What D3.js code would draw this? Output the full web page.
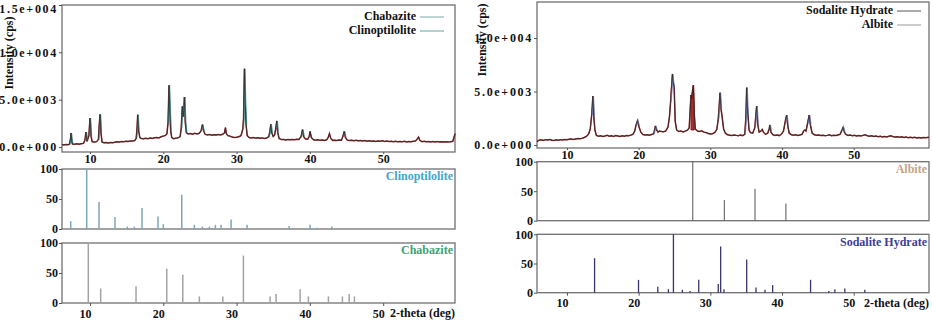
<!DOCTYPE html>
<html>
<head>
<meta charset="utf-8">
<script src="https://cdn.jsdelivr.net/npm/d3@7"></script>
<style>
  body { margin: 0; background: #fff; }
  svg text { font-family: "Liberation Serif", "Times New Roman", serif; font-weight: bold; fill: #111; }
</style>
</head>
<body>
<svg id="chart" width="932" height="322"></svg>
<script>
// ---- data ----
// left sample: [2-theta, counts]
const leftPattern = [
  [6.18, 280], [6.4, 220], [6.7, 260], [7.0, 240], [7.2, 300], [7.35, 900], [7.41, 1480], [7.5, 700], [7.6, 320],
  [7.9, 290], [8.2, 330], [8.5, 300], [8.8, 350], [9.1, 380], [9.3, 700], [9.45, 1580], [9.6, 600], [9.85, 1200],
  [10.0, 3060], [10.15, 1100], [10.3, 550], [10.6, 520], [10.9, 560], [11.15, 800], [11.25, 2200], [11.37, 3450],
  [11.5, 1500], [11.65, 500], [11.9, 440], [12.2, 460], [12.5, 420], [12.8, 480], [13.1, 450], [13.4, 500],
  [13.7, 540], [14.0, 520], [14.3, 580], [14.6, 560], [14.9, 610], [15.2, 590], [15.5, 640], [15.8, 620],
  [16.1, 680], [16.3, 900], [16.42, 2000], [16.51, 3410], [16.62, 1800], [16.8, 1000], [17.0, 900], [17.3, 860],
  [17.6, 920], [17.9, 880], [18.2, 950], [18.5, 910], [18.8, 980], [19.1, 1000], [19.4, 960], [19.7, 1080],
  [20.0, 1150], [20.3, 1220], [20.5, 1400], [20.65, 2600], [20.78, 6510], [20.88, 4200], [21.0, 1800],
  [21.15, 1000], [21.4, 880], [21.7, 920], [22.0, 960], [22.3, 1100], [22.45, 2000], [22.6, 4290], [22.7, 3200],
  [22.8, 3900], [22.88, 5280], [23.0, 2600], [23.15, 1500], [23.4, 1380], [23.7, 1420], [24.0, 1350], [24.3, 1440],
  [24.6, 1380], [24.9, 1450], [25.15, 1700], [25.34, 2360], [25.5, 1700], [25.7, 1350], [26.0, 1280], [26.3, 1320],
  [26.6, 1250], [26.9, 1300], [27.2, 1260], [27.5, 1320], [27.8, 1280], [28.1, 1340], [28.35, 1500], [28.48, 2040],
  [28.6, 1400], [28.8, 1200], [29.1, 1150], [29.4, 1050], [29.7, 1000], [30.0, 1020], [30.3, 1080], [30.6, 1200],
  [30.85, 1900], [30.95, 3000], [31.07, 8270], [31.18, 4500], [31.3, 2300], [31.45, 1200], [31.7, 1000],
  [32.0, 960], [32.3, 1000], [32.6, 940], [32.9, 980], [33.2, 920], [33.5, 960], [33.8, 900], [34.1, 950],
  [34.4, 1100], [34.55, 1700], [34.67, 2390], [34.8, 1500], [35.0, 1100], [35.2, 1300], [35.35, 2000], [35.49, 2750],
  [35.6, 1600], [35.8, 900], [36.1, 780], [36.4, 800], [36.7, 740], [37.0, 790], [37.3, 760], [37.6, 800],
  [37.9, 770], [38.2, 820], [38.5, 800], [38.8, 1100], [38.99, 1830], [39.15, 1100], [39.4, 850], [39.7, 820],
  [39.9, 1100], [40.03, 1650], [40.2, 1000], [40.5, 760], [40.8, 720], [41.1, 760], [41.4, 700], [41.7, 740],
  [42.0, 690], [42.3, 760], [42.5, 1000], [42.67, 1410], [42.85, 900], [43.1, 700], [43.4, 720], [43.7, 680],
  [44.0, 740], [44.3, 720], [44.5, 1100], [44.68, 1650], [44.85, 1000], [45.1, 720], [45.4, 680], [45.7, 720],
  [46.0, 660], [46.3, 700], [46.6, 650], [46.9, 690], [47.2, 640], [47.5, 680], [47.8, 620], [48.1, 660],
  [48.4, 600], [48.7, 640], [49.0, 590], [49.3, 630], [49.6, 600], [49.9, 650], [50.2, 580], [50.5, 620],
  [50.8, 570], [51.1, 600], [51.4, 560], [51.7, 600], [52.0, 550], [52.3, 590], [52.6, 560], [52.9, 600],
  [53.2, 540], [53.5, 580], [53.8, 550], [54.1, 600], [54.4, 620], [54.7, 900], [54.83, 1050], [55.0, 700],
  [55.3, 560], [55.6, 600], [55.9, 550], [56.2, 580], [56.5, 540], [56.8, 590], [57.1, 530], [57.4, 570],
  [57.7, 540], [58.0, 560], [58.3, 520], [58.6, 550], [58.9, 530], [59.2, 560], [59.5, 600], [59.7, 1100], [59.8, 1410]
]
const leftPhasePeaks = [7.41, 9.45, 10.0, 11.37, 16.51, 20.78, 22.6, 22.88, 25.34, 31.07, 34.67, 35.49, 38.99, 44.68]

// right sample: [2-theta, counts]
const rightPattern = [
  [5.82, 310], [6.1, 450], [6.4, 480], [6.7, 430], [7.0, 500], [7.3, 470], [7.6, 520], [7.9, 450], [8.2, 420],
  [8.5, 480], [8.8, 440], [9.1, 500], [9.4, 470], [9.7, 520], [10.0, 490], [10.3, 540], [10.6, 560], [10.9, 520],
  [11.2, 560], [11.5, 600], [11.8, 580], [12.1, 620], [12.4, 700], [12.7, 800], [13.0, 1000], [13.25, 1500],
  [13.45, 2800], [13.62, 4580], [13.75, 2600], [13.9, 1400], [14.1, 900], [14.4, 820], [14.7, 860], [15.0, 800],
  [15.3, 840], [15.6, 900], [15.9, 820], [16.2, 860], [16.5, 800], [16.8, 880], [17.1, 840], [17.4, 800],
  [17.7, 860], [18.0, 820], [18.3, 880], [18.6, 860], [18.9, 920], [19.2, 1000], [19.45, 1300], [19.65, 1900],
  [19.84, 2270], [20.05, 1700], [20.3, 1200], [20.6, 980], [20.9, 940], [21.2, 960], [21.5, 920], [21.8, 980],
  [22.1, 1050], [22.25, 1500], [22.34, 1780], [22.5, 1400], [22.7, 1200], [22.9, 1300], [23.2, 1260], [23.5, 1240],
  [23.8, 1320], [24.1, 1700], [24.3, 2650], [24.45, 4000], [24.71, 6640], [24.82, 5800], [24.95, 5450], [25.1, 2200],
  [25.3, 1400], [25.6, 1260], [25.9, 1300], [26.2, 1220], [26.5, 1300], [26.8, 1380], [27.05, 1600], [27.2, 3500],
  [27.31, 4670], [27.4, 4300], [27.5, 5000], [27.64, 5600], [27.75, 3000], [27.9, 1500], [28.2, 1300], [28.5, 1260],
  [28.8, 1320], [29.1, 1200], [29.4, 1160], [29.7, 1080], [30.0, 1020], [30.3, 1060], [30.6, 1150], [30.9, 1450],
  [31.1, 2400], [31.25, 3800], [31.35, 4890], [31.5, 3300], [31.65, 2600], [31.85, 1500], [32.1, 1100], [32.4, 960],
  [32.7, 920], [33.0, 880], [33.3, 940], [33.6, 900], [33.9, 860], [34.2, 930], [34.5, 880], [34.8, 1000],
  [34.95, 2500], [35.07, 5360], [35.17, 3600], [35.25, 2800], [35.4, 1400], [35.6, 1150], [35.9, 1100], [36.2, 1600],
  [36.35, 2800], [36.46, 3640], [36.6, 2000], [36.8, 1200], [37.05, 1300], [37.24, 1460], [37.4, 1200], [37.7, 1000],
  [38.0, 1100], [38.2, 1500], [38.31, 1870], [38.45, 1200], [38.7, 960], [39.0, 900], [39.3, 940], [39.6, 880],
  [39.9, 1000], [40.2, 1300], [40.45, 2200], [40.64, 2800], [40.8, 1800], [41.0, 1100], [41.3, 960], [41.6, 920],
  [41.9, 960], [42.2, 900], [42.5, 940], [42.8, 1000], [43.0, 1300], [43.19, 1400], [43.35, 1300], [43.55, 2000],
  [43.79, 2800], [43.95, 1900], [44.2, 1100], [44.5, 960], [44.8, 920], [45.1, 940], [45.4, 880], [45.7, 920],
  [46.0, 870], [46.3, 900], [46.6, 950], [46.9, 860], [47.2, 900], [47.5, 880], [47.8, 940], [48.1, 1000],
  [48.3, 1300], [48.52, 1650], [48.7, 1200], [48.9, 1000], [49.2, 900], [49.5, 940], [49.8, 860], [50.1, 900],
  [50.4, 840], [50.7, 880], [51.0, 850], [51.3, 900], [51.6, 950], [51.9, 860], [52.2, 820], [52.5, 860],
  [52.8, 800], [53.1, 840], [53.4, 780], [53.7, 820], [54.0, 760], [54.3, 800], [54.6, 760], [54.9, 820],
  [55.2, 860], [55.5, 780], [55.8, 740], [56.1, 780], [56.4, 720], [56.7, 760], [57.0, 700], [57.3, 740],
  [57.6, 690], [57.9, 730], [58.2, 680], [58.5, 720], [58.8, 660], [59.1, 700], [59.4, 650], [59.7, 700],
  [60.0, 680], [60.5, 720]
]
const rightPhasePeaks = [13.62, 19.84, 22.34, 24.71, 31.35, 35.07, 36.46, 38.31, 40.64, 43.79, 48.52]
const rightFilledPeaks = [27.5]

// reference cards: [2-theta, relative intensity]
const clinoptiloliteCard = [
  [7.37, 13], [9.55, 100], [11.23, 45], [13.41, 20], [15.09, 4], [16.05, 4], [17.1, 35], [19.28, 21],
  [20.0, 8], [22.52, 57], [24.24, 7], [25.33, 4], [26.29, 4], [27.11, 7], [27.88, 7], [29.25, 16],
  [31.43, 7], [37.17, 5], [40.03, 7], [40.95, 2], [42.99, 4]
]
const chabaziteCard = [
  [9.77, 100], [11.46, 24], [16.28, 28], [20.47, 57], [22.66, 47], [24.92, 11], [28.12, 11], [30.93, 79],
  [34.57, 11], [35.39, 15], [38.67, 23], [39.8, 11], [42.53, 11], [44.44, 11], [45.36, 15], [46.08, 11]
]
const albiteCard = [[27.55, 100], [31.95, 35], [36.23, 54], [40.54, 29]]
const sodaliteCard = [
  [13.85, 59], [19.98, 22], [22.67, 10], [24.15, 6], [24.85, 100], [26.1, 5], [27.17, 3], [28.38, 22],
  [31.1, 15], [31.44, 79], [31.9, 6], [35.07, 57], [36.37, 9], [37.62, 5], [38.69, 13], [43.98, 22],
  [46.53, 3], [47.37, 6], [48.76, 7], [51.55, 5]
]

const angleTicks = [10, 20, 30, 40, 50]
const leftIntensityTicks = [0, 5000, 10000, 15000]
const leftIntensityLabels = ['0.0e+000', '5.0e+003', '1.0e+004', '1.5e+004']
const rightIntensityTicks = [0, 5000, 10000]
const rightIntensityLabels = ['0.0e+000', '5.0e+003', '1.0e+004']
const cardTicks = [0, 50, 100]

// ---- drawing ----
const svg = d3.select('#chart')

const frame = (x, y) => {
  svg.append('rect')
    .attr('x', x.range()[0])
    .attr('y', y.range()[1])
    .attr('width', x.range()[1] - x.range()[0])
    .attr('height', y.range()[0] - y.range()[1])
    .attr('fill', 'none')
    .attr('stroke', '#707070')
    .attr('stroke-width', 1.3)
}

const styleAxis = (g, size, spacing) => {
  g.attr('font-family', null).attr('font-size', null)
  g.select('.domain').remove()
  g.selectAll('line').attr('stroke', '#555')
  g.selectAll('text')
    .style('font-size', size + 'px')
    .style('letter-spacing', spacing + 'px')
    .attr('fill', '#111')
}

function drawPattern (cfg) {
  const { x, y, data, peaks, peakColor, filled } = cfg
  frame(x, y)

  const line = d3.line().x(d => x(d[0])).y(d => y(d[1]))

  svg.append('path')
    .datum(data)
    .attr('fill', 'none')
    .attr('stroke', '#9a2424')
    .attr('stroke-width', 1.5)
    .attr('d', line)

  ;(filled || []).forEach(pos => {
    const pts = data.filter(d => Math.abs(d[0] - pos) <= 0.3)
    svg.append('path')
      .datum(pts)
      .attr('fill', '#a83030')
      .attr('stroke', '#8a1c1c')
      .attr('stroke-width', 1)
      .attr('d', d3.area().x(d => x(d[0])).y0(d => y(Math.min(d[1], 1400))).y1(d => y(d[1])))
  })

  peaks.forEach(pos => {
    const pts = data.filter(d => Math.abs(d[0] - pos) <= 0.28)
    svg.append('path')
      .datum(pts)
      .attr('fill', 'none')
      .attr('stroke', peakColor)
      .attr('stroke-width', 1.3)
      .attr('d', d3.line().x(d => x(d[0] + 0.07)).y(d => y(d[1])))
  })

  svg.append('path')
    .datum(data)
    .attr('fill', 'none')
    .attr('stroke', '#2a2a2a')
    .attr('stroke-width', 0.8)
    .attr('d', line)

  svg.append('g')
    .attr('transform', `translate(${x.range()[0]},0)`)
    .call(d3.axisLeft(y).tickValues(cfg.ticks).tickFormat((d, i) => cfg.labels[i]).tickSize(3).tickPadding(1))
    .call(g => styleAxis(g, 12, 1.7))
    .call(g => g.selectAll('text').attr('dy', d => y(d) < 8 ? '0.6em' : '0.32em'))

  svg.append('g')
    .attr('transform', `translate(0,${y.range()[0]})`)
    .call(d3.axisBottom(x).tickValues(angleTicks).tickFormat(d3.format('d')).tickSize(2).tickPadding(0))
    .call(g => styleAxis(g, 12, 0))

  svg.append('text')
    .attr('transform', `translate(${cfg.titleX},${cfg.titleY}) rotate(-90)`)
    .attr('text-anchor', 'middle')
    .attr('dy', '0.35em')
    .style('font-size', '12px')
    .text('Intensity (cps)')

  cfg.legend.forEach((item, i) => {
    const ly = cfg.legendY + i * 14
    svg.append('text')
      .attr('x', cfg.legendX)
      .attr('y', ly)
      .attr('text-anchor', 'end')
      .attr('dy', '0.35em')
      .style('font-size', '12px')
      .text(item.name)
    svg.append('line')
      .attr('x1', cfg.legendX + 4)
      .attr('x2', cfg.legendX + 28)
      .attr('y1', ly + 1)
      .attr('y2', ly + 1)
      .attr('stroke', item.color)
      .attr('stroke-width', 1)
  })
}

function drawCard (cfg) {
  const { x, y, data } = cfg
  frame(x, y)

  svg.selectAll(null)
    .data(data)
    .join('line')
    .attr('x1', d => x(d[0]))
    .attr('x2', d => x(d[0]))
    .attr('y1', y(0))
    .attr('y2', d => y(d[1]))
    .attr('stroke', cfg.barColor)
    .attr('stroke-width', cfg.barWidth)

  svg.append('g')
    .attr('transform', `translate(${x.range()[0]},0)`)
    .call(d3.axisLeft(y).tickValues(cardTicks).tickSize(3).tickPadding(1))
    .call(g => styleAxis(g, 12, 0))

  svg.append('text')
    .attr('x', x.range()[1] - 2)
    .attr('y', y(100) + 7)
    .attr('dy', '0.35em')
    .attr('text-anchor', 'end')
    .style('font-size', '12px')
    .style('fill', cfg.nameColor)
    .text(cfg.name)

  if (cfg.withAxis) {
    svg.append('g')
      .attr('transform', `translate(0,${y.range()[0]})`)
      .call(d3.axisBottom(x).tickValues(angleTicks).tickFormat(d3.format('d')).tickSize(3).tickPadding(3))
      .call(g => styleAxis(g, 12, 0))
      .call(g => g.selectAll('text').attr('dx', -5))
    svg.append('text')
      .attr('x', x.range()[1])
      .attr('y', y.range()[0] + 10)
      .attr('dy', '0.35em')
      .attr('text-anchor', 'end')
      .style('font-size', '12px')
      .text('2-theta (deg)')
  }
}

// left column
const xLeft = d3.scaleLinear().domain([6.18, 59.8]).range([62, 455])
drawPattern({
  x: xLeft,
  y: d3.scaleLinear().domain([-530, 15000]).range([152, 5]),
  data: leftPattern,
  peaks: leftPhasePeaks,
  peakColor: '#4f9c9a',
  ticks: leftIntensityTicks,
  labels: leftIntensityLabels,
  titleX: 9,
  titleY: 53,
  legendX: 416,
  legendY: 16,
  legend: [{ name: 'Chabazite', color: '#7aa9ab' }, { name: 'Clinoptilolite', color: '#5fa3a5' }]
})
drawCard({
  x: xLeft,
  y: d3.scaleLinear().domain([0, 100]).range([229, 169]),
  data: clinoptiloliteCard,
  barColor: '#7ea6b6',
  barWidth: 1.5,
  name: 'Clinoptilolite',
  nameColor: '#45a5cc'
})
drawCard({
  x: xLeft,
  y: d3.scaleLinear().domain([0, 100]).range([303, 243]),
  data: chabaziteCard,
  barColor: '#a3a3a3',
  barWidth: 1.5,
  name: 'Chabazite',
  nameColor: '#3f9f72',
  withAxis: true
})

// right column
const xRight = d3.scaleLinear().domain([5.82, 60.5]).range([537, 929])
drawPattern({
  x: xRight,
  y: d3.scaleLinear().domain([-280, 13364]).range([148, 2]),
  data: rightPattern,
  peaks: rightPhasePeaks,
  peakColor: '#8090c4',
  filled: rightFilledPeaks,
  ticks: rightIntensityTicks,
  labels: rightIntensityLabels,
  titleX: 482,
  titleY: 40,
  legendX: 893,
  legendY: 10,
  legend: [{ name: 'Sodalite Hydrate', color: '#555' }, { name: 'Albite', color: '#999' }]
})
drawCard({
  x: xRight,
  y: d3.scaleLinear().domain([0, 100]).range([220.7, 161.7]),
  data: albiteCard,
  barColor: '#555',
  barWidth: 1,
  name: 'Albite',
  nameColor: '#c4a487'
})
drawCard({
  x: xRight,
  y: d3.scaleLinear().domain([0, 100]).range([292.7, 234.3]),
  data: sodaliteCard,
  barColor: '#35356a',
  barWidth: 1.3,
  name: 'Sodalite Hydrate',
  nameColor: '#3d3d96',
  withAxis: true
})
</script>
</body>
</html>
